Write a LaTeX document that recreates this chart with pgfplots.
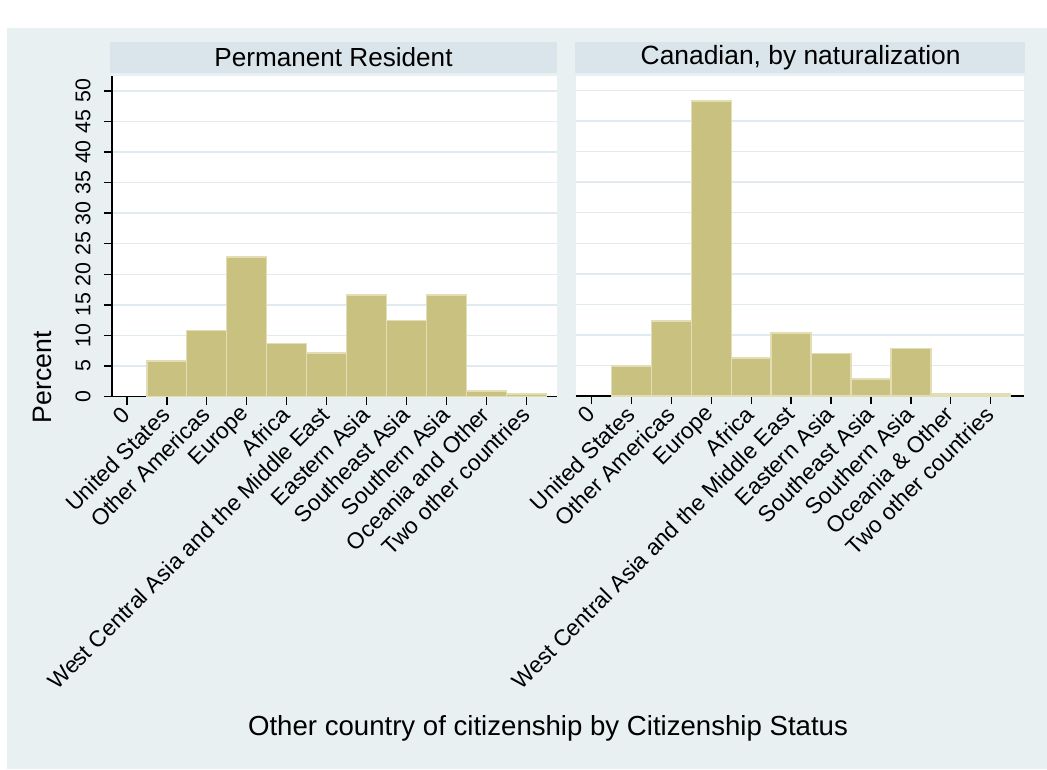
\documentclass[border=0pt]{standalone}
\usepackage{pgfplots}
\pgfplotsset{compat=1.18}
\usepackage{fontspec}
\setmainfont{Liberation Sans}
\definecolor{outerbg}{HTML}{E8F0F2}
\definecolor{hdr}{HTML}{D9E5EB}
\definecolor{khaki}{HTML}{C9C17F}
\definecolor{barline}{HTML}{E2DDB4}
\definecolor{gridcol}{HTML}{E1EAEE}
\pgfplotsset{
  panel/.style={
    scale only axis,
    height=240.375pt,
    ymin=0, ymax=52.45,
    axis x line=bottom, axis y line=left,
    axis line style={-, black, line width=1.1pt},
    xtick={0,...,10},
    ytick={0,5,...,50},
    ymajorgrids,
    grid style={gridcol, line width=1.1pt},
    tick align=outside,
    major tick length=6pt,
    tick style={black, line width=1.1pt},
    xticklabel style={rotate=45, anchor=east, font=\fontsize{17}{19}\selectfont, inner sep=1pt},
    xticklabel shift=4pt,
    yticklabel style={rotate=90, anchor=south, font=\fontsize{16}{18}\selectfont},
    yticklabel shift=6.5pt,
    /pgf/number format/assume math mode=true,
    axis background/.style={fill=white},
    ybar, bar width=1,
  },
  bars/.style={fill=khaki, draw=barline, line width=1.1pt},
}
\begin{document}
\begin{tikzpicture}
\fill[white] (0pt,0pt) rectangle (785.25pt,-576.75pt);
\fill[outerbg] (5.25pt,-21pt) rectangle (785.25pt,-576.75pt);
\fill[hdr] (82.5pt,-31.5pt) rectangle (417.75pt,-54.75pt);
\fill[hdr] (431.25pt,-31.5pt) rectangle (768.75pt,-54.75pt);
\node[font=\fontsize{19.6}{22}\selectfont] at (250.1pt,-43.1pt) {Permanent Resident};
\node[font=\fontsize{19.8}{22}\selectfont] at (600.5pt,-43.1pt) {Canadian, by naturalization};

\begin{axis}[panel,
  at={(84pt,-297.375pt)}, anchor=south west,
  width=333.75pt,
  xmin=-0.37, xmax=10.76,
  xticklabels={0, United States, Other Americas, Europe, Africa, West Central Asia and the Middle East, Eastern Asia, Southeast Asia, Southern Asia, Oceania and Other, Two other countries},
]
\addplot[bars] coordinates {(1,5.8) (2,10.8) (3,22.8) (4,8.7) (5,7.1) (6,16.6) (7,12.4) (8,16.6) (9,0.9) (10,0.4)};
\end{axis}

\begin{axis}[panel,
  at={(431.8pt,-297pt)}, anchor=south west,
  width=336pt,
  xmin=-0.40, xmax=10.83,
  yticklabels={},
  y axis line style={draw=none},
  ytick style={draw=none},
  xticklabels={0, United States, Other Americas, Europe, Africa, West Central Asia and the Middle East, Eastern Asia, Southeast Asia, Southern Asia, Oceania \& Other, Two other countries},
]
\addplot[bars] coordinates {(1,4.9) (2,12.3) (3,48.3) (4,6.2) (5,10.3) (6,7.0) (7,2.8) (8,7.8) (9,0.3) (10,0.3)};
\end{axis}

\node[rotate=90, font=\fontsize{20}{24}\selectfont] at (31.5pt,-283.1pt) {Percent};
\node[font=\fontsize{20.7}{24}\selectfont] at (411pt,-546pt) {Other country of citizenship by Citizenship Status};
\end{tikzpicture}
\end{document}
